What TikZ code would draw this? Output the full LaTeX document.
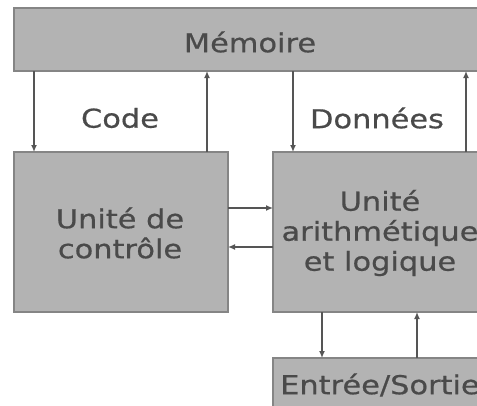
\documentclass[tikz,border=0pt]{standalone}
\usepackage{fontspec}
\setmainfont[FakeStretch=1.17,FakeBold=0.6]{DejaVu Sans}
\usetikzlibrary{arrows.meta}
\definecolor{boxfill}{HTML}{B3B3B3}
\definecolor{boxline}{HTML}{858585}
\definecolor{txt}{HTML}{4A4A4A}
\definecolor{wire}{HTML}{555555}
\begin{document}
\begin{tikzpicture}[x=1pt,y=-1pt,
  unit/.style={draw=boxline,fill=boxfill,line width=1.4pt},
  lbl/.style={text=txt,font=\fontsize{26}{30}\selectfont,align=center,inner sep=0pt},
  link/.style={draw=wire,line width=1.3pt,-{Latex[length=7pt,width=6pt]}}]
\useasboundingbox (0,0) rectangle (477,405);
\clip (0,0) rectangle (477,405);
% blocks
\draw[unit] (14,8) rectangle (490,71);
\node[lbl] (mem) at (250,42) {Mémoire};
\draw[unit] (14,152) rectangle (228,312);
\node[lbl] (cu) at (120,233) {Unité de\\contrôle};
\draw[unit] (273,152) rectangle (490,312);
\node[lbl] (alu) at (380,233) {Unité\\arithmétique\\et logique};
\draw[unit] (273,358) rectangle (490,420);
\node[lbl,anchor=west] (io) at (280,385) {Entrée/Sortie};
% labels of the buses
\node[lbl] (code) at (120,118) {Code};
\node[lbl] (data) at (377,118) {Données};
% anchor points on the block edges
\coordinate (m1) at (34,71);   \coordinate (c1) at (34,152);
\coordinate (m2) at (207,71);  \coordinate (c2) at (207,152);
\coordinate (m3) at (293,71);  \coordinate (a1) at (293,152);
\coordinate (m4) at (466,71);  \coordinate (a2) at (466,152);
\coordinate (c3) at (228,208); \coordinate (a3) at (273,208);
\coordinate (c4) at (228,247); \coordinate (a4) at (273,247);
\coordinate (a5) at (322,312); \coordinate (i1) at (322,358);
\coordinate (a6) at (417,312); \coordinate (i2) at (417,358);
% connectors
\draw[link] (m1) -- (c1);
\draw[link] (c2) -- (m2);
\draw[link] (m3) -- (a1);
\draw[link] (a2) -- (m4);
\draw[link] (c3) -- (a3);
\draw[link] (a4) -- (c4);
\draw[link] (a5) -- (i1);
\draw[link] (i2) -- (a6);
\end{tikzpicture}
\end{document}
